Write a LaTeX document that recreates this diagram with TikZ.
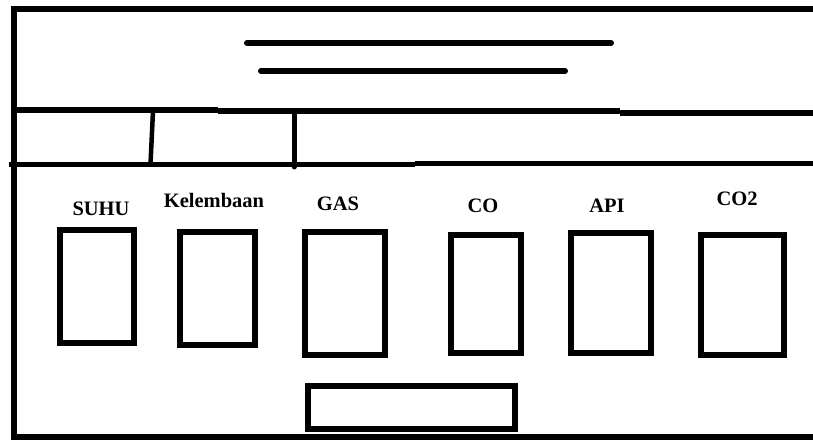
\documentclass[tikz,border=0pt]{standalone}
\usepackage{fontspec}
\setmainfont{Liberation Serif}
\begin{document}
\begin{tikzpicture}[x=1pt,y=-1pt,
  frameline/.style={line width=5.5pt,line join=miter},
  sepline/.style={line width=5.5pt},
  titleline/.style={line width=6pt,line cap=round},
  gauge/.style={draw,line width=6pt,rectangle,inner sep=0pt},
  lbl/.style={anchor=base,inner sep=0pt,font=\fontsize{20.5}{24}\selectfont\bfseries}]
\useasboundingbox (0,0) rectangle (813,441);
% outer frame
\draw[frameline] (813,9) -- (14,9) -- (14,437) -- (813,437);
% title lines
\draw[titleline] (247,43) -- (611,43);
\draw[titleline] (261,71) -- (565,71);
% header separators
\draw[sepline,line width=6pt] (14,110) -- (218,110);
\draw[sepline,line width=6pt] (218,111.5) -- (620,111.5);
\draw[sepline,line width=6pt] (620,113) -- (813,113);
\draw[sepline] (9,164.5) -- (415,164.5);
\draw[sepline,line width=5pt] (415,163) -- (813,163);
\draw[line width=4.5pt] (153,111) -- (150.5,164);
\draw[line width=5pt,line cap=round] (294,111) -- (294,167);
% labels
\node[lbl] (tSuhu) at (101,215) {SUHU};
\node[lbl] (tKel) at (214,207) {Kelembaan};
\node[lbl] (tGas) at (338,210) {GAS};
\node[lbl] (tCo) at (483,212) {CO};
\node[lbl] (tApi) at (607,212) {API};
\node[lbl] (tCo2) at (737,205) {CO2};
% boxes
\node[gauge,minimum width=74pt,minimum height=113pt] (bSuhu) at (97,286.5) {};
\node[gauge,minimum width=75pt,minimum height=113pt] (bKel) at (217.5,288.5) {};
\node[gauge,minimum width=80pt,minimum height=123pt] (bGas) at (345,293.5) {};
\node[gauge,minimum width=70pt,minimum height=118pt] (bCo) at (486,294) {};
\node[gauge,minimum width=80pt,minimum height=120pt] (bApi) at (611,293) {};
\node[gauge,minimum width=83pt,minimum height=120pt] (bCo2) at (742.5,295) {};
\node[gauge,minimum width=207pt,minimum height=43pt] (bBottom) at (411.5,407.5) {};
\end{tikzpicture}
\end{document}
